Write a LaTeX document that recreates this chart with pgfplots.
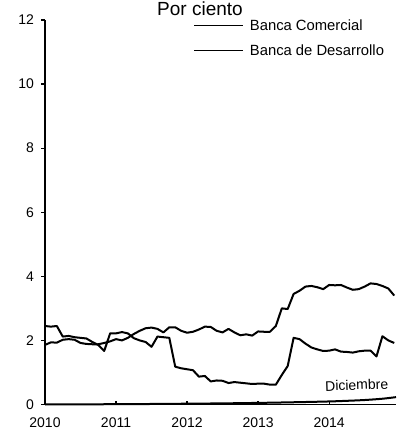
\documentclass[border=0pt]{standalone}
\usepackage{fontspec}
\setmainfont{Liberation Sans}
\usepackage{pgfplots}
\pgfplotsset{compat=1.18}
\usepackage{pgfplotstable}

\pgfplotstableread{
k C D
0 1.86 2.45
1 1.94 2.43
2 1.93 2.45
3 2.02 2.12
4 2.04 2.14
5 2.02 2.10
6 1.92 2.08
7 1.89 2.06
8 1.88 1.95
9 1.88 1.86
10 1.92 1.67
11 1.97 2.22
12 2.04 2.22
13 2.00 2.26
14 2.08 2.22
15 2.20 2.07
16 2.30 2.00
17 2.38 1.95
18 2.40 1.80
19 2.36 2.12
20 2.25 2.10
21 2.41 2.08
22 2.41 1.18
23 2.30 1.13
24 2.24 1.10
25 2.27 1.07
26 2.34 0.87
27 2.43 0.89
28 2.42 0.72
29 2.30 0.75
30 2.25 0.74
31 2.36 0.67
32 2.25 0.70
33 2.16 0.68
34 2.19 0.66
35 2.15 0.64
36 2.28 0.65
37 2.27 0.65
38 2.27 0.62
39 2.45 0.62
40 3.00 0.92
41 2.98 1.20
42 3.45 2.08
43 3.55 2.04
44 3.68 1.90
45 3.70 1.78
46 3.66 1.72
47 3.60 1.67
48 3.73 1.68
49 3.72 1.72
50 3.73 1.65
51 3.65 1.64
52 3.58 1.62
53 3.60 1.66
54 3.68 1.68
55 3.78 1.68
56 3.76 1.50
57 3.70 2.13
58 3.62 2.00
59 3.40 1.92
}\datatable

\pgfplotstableread{
k v
0 0.0
6 0.004
12 0.01
18 0.016
24 0.025
30 0.035
36 0.05
42 0.07
48 0.095
51 0.115
54 0.14
57 0.18
59.3 0.23
}\dictable

\begin{document}
\begin{tikzpicture}
\begin{axis}[
  scale only axis,
  width=175.5pt, height=192.25pt,
  xmin=0, xmax=59.3, ymin=0, ymax=12,
  axis lines=left,
  axis line style={-, line width=0.6pt},
  xtick={0,12,24,36,48},
  xticklabels={2010,2011,2012,2013,2014},
  ytick={0,2,4,6,8,10,12},
  tick align=outside,
  major tick length=2pt,
  x tick style={yshift=2pt},
  tick style={black, line width=0.6pt},
  ticklabel style={font=\fontsize{7}{8}\selectfont},
  /pgf/number format/assume math mode=true,
  xticklabel style={yshift=-1pt},
  clip=false,
  legend style={at={(0.4217,1.0)}, anchor=north west, draw=none, fill=none,
    inner sep=0pt, row sep=7pt, column sep=3pt,
    font=\fontsize{7.4}{8}\selectfont,
    nodes={inner sep=0pt, text height=5.3pt, text depth=0pt}},
  legend cell align=left,
  legend image code/.code={\draw[#1, line width=0.75pt] (0pt,0pt) -- (24.5pt,0pt);},
]
\coordinate (O) at (rel axis cs:0,0);
\addplot[black, line width=1pt, line join=round] table[x=k, y=C] {\datatable};
\addlegendentry{Banca Comercial}
\addplot[black, line width=1pt, line join=round] table[x=k, y=D] {\datatable};
\addlegendentry{Banca de Desarrollo}
\addplot[black, line width=1pt, smooth, forget plot] table[x=k, y=v] {\dictable};
\node[font=\fontsize{7}{8}\selectfont, rotate=2] at (axis cs:52.66,0.61) {Diciembre};
\node[anchor=base, inner sep=0pt, font=\fontsize{9.5}{11}\selectfont] at ([yshift=2.2pt]rel axis cs:0.4416,1) {Por ciento};
\end{axis}
\pgfresetboundingbox
\path[use as bounding box] (O) ++(-22.5pt,-13.25pt) rectangle ++(198pt,215.5pt);
\end{tikzpicture}
\end{document}
